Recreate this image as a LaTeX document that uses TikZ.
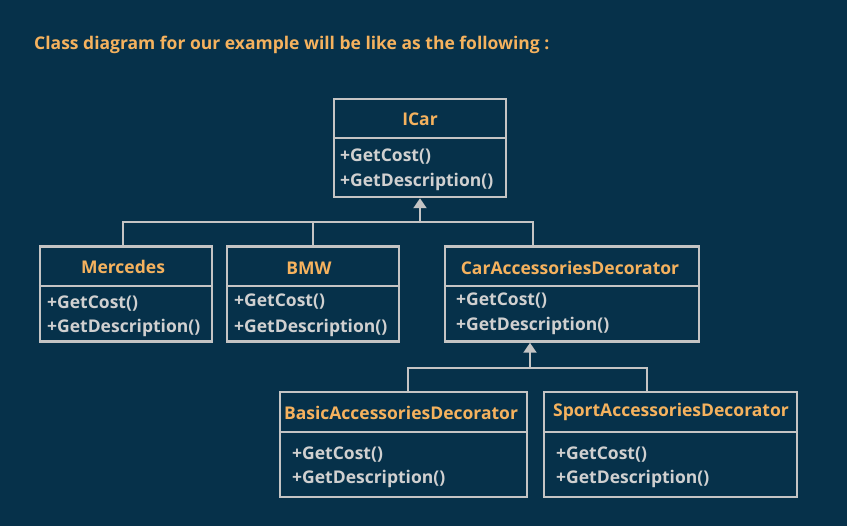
\documentclass[tikz,border=0pt]{standalone}
\usepackage{fontspec}
\setmainfont{Open Sans}
\usetikzlibrary{arrows.meta}
\definecolor{bgblue}{RGB}{6,49,74}
\definecolor{nameorange}{RGB}{245,178,94}
\definecolor{linegray}{RGB}{196,196,196}
\definecolor{methgray}{RGB}{208,208,208}

\begin{document}
\begin{tikzpicture}[x=1pt,y=-1pt,
  classbox/.style={draw=linegray, line width=2.5pt, inner sep=0pt},
  cname/.style={text=nameorange, font=\bfseries\fontsize{17.5}{20}\selectfont, inner sep=0pt},
  meth/.style={text=methgray, font=\bfseries\fontsize{17.5}{20}\selectfont, anchor=west, inner sep=0pt},
  link/.style={draw=linegray, line width=2pt},
  inherit/.style={link, -{Triangle[length=10pt,width=13pt]}}]

  \useasboundingbox (0,0) rectangle (847,526);
  \fill[bgblue] (0,0) rectangle (847,526);

  \node[cname, anchor=west] (heading) at (34,45) {Class diagram for our example will be like as the following :};

  % ICar
  \node[classbox, minimum width=172, minimum height=98] (icar) at (420,148) {};
  \draw[link] (icar.west |- 0,138) -- (icar.east |- 0,138);
  \node[cname] (icarname) at (420,119) {ICar};
  \node[meth] (icarcost) at (340,157) {+GetCost()};
  \node[meth] (icardesc) at (340,182) {+GetDescription()};

  % Mercedes
  \node[classbox, minimum width=172, minimum height=95] (merc) at (126,294) {};
  \draw[link] (merc.west |- 0,286) -- (merc.east |- 0,286);
  \node[cname] (mercname) at (123,267) {Mercedes};
  \node[meth] (merccost) at (47,304) {+GetCost()};
  \node[meth] (mercdesc) at (47,328) {+GetDescription()};

  % BMW
  \node[classbox, minimum width=172, minimum height=95] (bmw) at (313,294) {};
  \draw[link] (bmw.west |- 0,286) -- (bmw.east |- 0,286);
  \node[cname] (bmwname) at (309,268) {BMW};
  \node[meth] (bmwcost) at (234,302) {+GetCost()};
  \node[meth] (bmwdesc) at (234,328) {+GetDescription()};

  % CarAccessoriesDecorator
  \node[classbox, minimum width=254, minimum height=95] (cad) at (572,294) {};
  \draw[link] (cad.west |- 0,286) -- (cad.east |- 0,286);
  \node[cname] (cadname) at (570,268) {CarAccessoriesDecorator};
  \node[meth] (cadcost) at (456,301) {+GetCost()};
  \node[meth] (caddesc) at (456,326) {+GetDescription()};

  % BasicAccessoriesDecorator
  \node[classbox, minimum width=247, minimum height=105] (bad) at (403.5,444.5) {};
  \draw[link] (bad.west |- 0,432) -- (bad.east |- 0,432);
  \node[cname] (badname) at (401,413) {BasicAccessoriesDecorator};
  \node[meth] (badcost) at (292,455) {+GetCost()};
  \node[meth] (baddesc) at (292,479) {+GetDescription()};

  % SportAccessoriesDecorator
  \node[classbox, minimum width=253, minimum height=105] (sad) at (670.5,444.5) {};
  \draw[link] (sad.west |- 0,432) -- (sad.east |- 0,432);
  \node[cname] (sadname) at (671,412) {SportAccessoriesDecorator};
  \node[meth] (sadcost) at (556,455) {+GetCost()};
  \node[meth] (saddesc) at (556,479) {+GetDescription()};

  % generalisation links
  \coordinate (carhub) at (420,222);
  \coordinate (cadtop) at (533,246);
  \coordinate (mercTop) at (123,246);
  \draw[link] (mercTop) |- (carhub) -| (cadtop);
  \draw[link] (bmw.north) -- (bmw.north |- carhub);
  \draw[inherit] (carhub) -- (icar.south);

  \coordinate (dechub) at (530,368);
  \coordinate (badtop) at (408,392);
  \coordinate (sadtop) at (647,392);
  \draw[link] (badtop) |- (dechub) -| (sadtop);
  \draw[inherit] (dechub) -- (dechub |- cad.south);
\end{tikzpicture}
\end{document}
